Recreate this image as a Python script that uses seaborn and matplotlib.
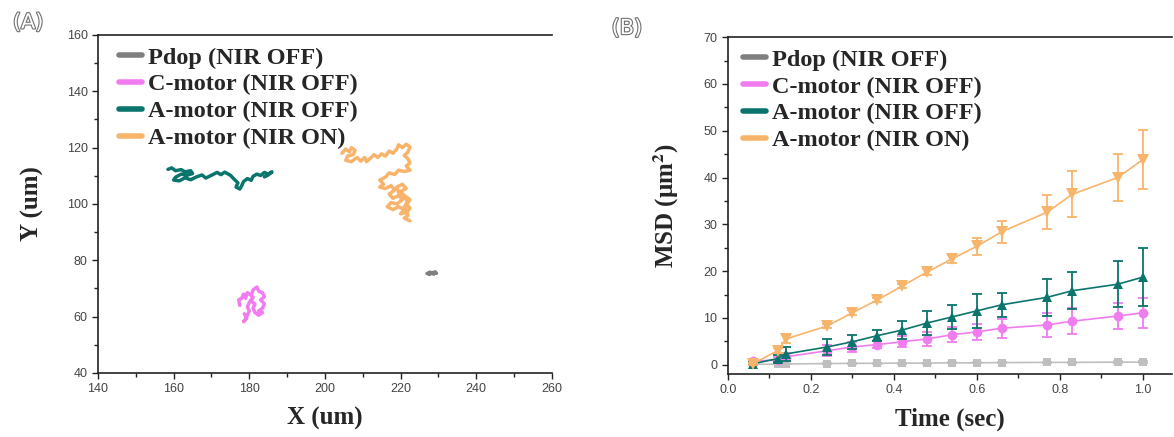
import numpy as np
import pandas as pd
import matplotlib
matplotlib.use("Agg")
import matplotlib.pyplot as plt
import matplotlib.patheffects as pe
from matplotlib.lines import Line2D
from matplotlib.ticker import MultipleLocator
import seaborn as sns

# ---------------- data ----------------
series = ["Pdop (NIR OFF)", "C-motor (NIR OFF)", "A-motor (NIR OFF)", "A-motor (NIR ON)"]
colors = ["#7f7f7f", "#f07cf0", "#0b756d", "#f9b46c"]
msd_colors = ["#bfbfbf", "#f07cf0", "#0b756d", "#f9b46c"]

# Panel A trajectories (X, Y in um)
pdop_x = [227.0, 227.8, 228.5, 229.2, 228.8, 228.0, 227.5, 228.6, 229.5, 228.3]
pdop_y = [75.3, 75.8, 75.4, 75.9, 75.1, 75.5, 75.0, 75.7, 75.4, 75.6]

cmot_x = [177.5, 177.2, 178.0, 178.5, 179.0, 179.5, 180.5, 181.0, 182.0, 182.5, 183.5, 184.0,
          183.0, 184.0, 183.5, 182.5, 183.5, 182.5, 181.5, 181.0, 181.5, 180.5, 181.0, 180.0,
          179.5, 180.0, 179.5, 179.0, 178.5, 179.3, 178.7]
cmot_y = [64.0, 66.0, 66.5, 68.0, 66.5, 68.5, 67.5, 69.5, 70.5, 69.0, 68.5, 67.0,
          66.0, 64.5, 63.0, 62.0, 61.5, 60.5, 61.5, 63.0, 64.5, 65.5, 67.0, 65.0,
          63.5, 62.0, 60.5, 59.0, 58.2, 59.5, 61.0]

amoff_x = [158.5, 159.5, 160.5, 162.0, 163.0, 164.5, 165.0, 163.5, 162.0, 160.5, 160.0, 161.5,
           163.0, 164.5, 166.0, 167.5, 168.5, 170.0, 171.5, 172.5, 173.5, 175.0, 176.0, 177.0,
           176.5, 177.5, 178.0, 178.5, 179.5, 180.5, 181.0, 182.0, 183.0, 184.0, 185.0, 186.0,
           185.0, 184.0]
amoff_y = [112.3, 112.8, 111.8, 112.2, 111.4, 111.8, 110.8, 110.2, 110.6, 109.5, 108.5, 108.2,
           109.3, 108.6, 109.6, 110.3, 109.2, 110.2, 111.2, 110.4, 111.3, 110.2, 108.8, 107.5,
           106.0, 105.3, 106.5, 108.0, 109.0, 108.4, 109.8, 110.6, 110.1, 111.2, 110.6, 111.4,
           110.3, 109.6]

amon_x = [204.5, 205.5, 206.5, 207.0, 208.0, 207.5, 206.0, 205.5, 207.0, 208.5, 209.5, 210.5,
          211.0, 212.0, 213.0, 214.0, 215.0, 216.0, 217.0, 218.0, 219.0, 219.5, 220.5, 221.5,
          222.5, 222.0, 221.0, 222.0, 222.5, 221.5, 222.5, 221.0, 219.5, 218.5, 217.0, 216.0,
          214.5, 215.5, 214.5, 216.0, 217.5, 218.5, 217.0, 218.0, 219.5, 220.5, 219.0, 217.5,
          216.5, 218.0, 219.5, 221.0, 220.0, 221.5, 222.5, 221.5, 222.5, 221.0, 220.0, 221.5,
          220.5, 219.0, 219.5, 221.0, 222.0, 221.0, 222.0, 221.0, 222.5]
amon_y = [118.0, 119.5, 118.5, 120.0, 119.0, 117.5, 117.0, 115.5, 115.0, 116.5, 115.2, 116.5,
          115.0, 116.2, 117.5, 116.5, 117.8, 117.0, 118.8, 118.0, 119.5, 121.0, 120.0, 121.2,
          120.3, 118.5, 117.2, 116.0, 114.5, 113.5, 112.0, 111.5, 112.0, 110.5, 111.0, 109.5,
          108.5, 107.0, 106.0, 105.5, 106.5, 105.0, 103.5, 102.0, 103.0, 101.5, 100.0, 100.5,
          99.0, 98.0, 99.0, 98.0, 96.5, 97.0, 98.5, 100.0, 101.5, 103.0, 104.5, 105.5,
          107.0, 106.0, 104.0, 102.5, 100.5, 99.0, 96.0, 95.0, 94.0]

# Panel B MSD
t = [0.06, 0.12, 0.14, 0.24, 0.30, 0.36, 0.42, 0.48, 0.54, 0.60, 0.66, 0.77, 0.83, 0.94, 1.00]
msd_pdop = [0.1, 0.1, 0.15, 0.25, 0.3, 0.3, 0.35, 0.35, 0.4, 0.4, 0.45, 0.5, 0.5, 0.55, 0.55]
err_pdop = [0.05, 0.05, 0.05, 0.1, 0.1, 0.1, 0.1, 0.1, 0.1, 0.1, 0.1, 0.15, 0.15, 0.15, 0.15]
msd_cmot = [0.8, 1.0, 1.7, 3.0, 3.8, 4.3, 4.9, 5.5, 6.4, 7.0, 7.8, 8.5, 9.3, 10.4, 11.1]
err_cmot = [0.3, 0.6, 0.8, 1.2, 1.0, 0.8, 1.2, 1.5, 1.6, 1.8, 2.0, 2.6, 2.8, 2.8, 3.2]
msd_aoff = [0.2, 1.3, 2.3, 3.8, 4.9, 6.2, 7.4, 8.9, 10.2, 11.5, 12.8, 14.4, 15.8, 17.2, 18.7]
err_aoff = [0.3, 0.8, 1.5, 1.7, 1.5, 1.2, 2.0, 2.6, 2.6, 3.6, 2.5, 4.0, 4.0, 4.9, 6.2]
msd_aon = [0.2, 3.0, 5.5, 8.3, 11.1, 13.8, 16.8, 19.8, 22.6, 25.3, 28.4, 32.6, 36.4, 40.0, 43.8]
err_aon = [0.2, 0.5, 0.8, 0.5, 0.5, 0.5, 0.5, 0.6, 0.8, 1.8, 2.3, 3.6, 4.9, 5.0, 6.3]

# ---------------- style ----------------
sns.set_theme(style="white")
plt.rcParams["font.family"] = ["Liberation Sans", "DejaVu Sans"]
plt.rcParams["mathtext.fontset"] = "stix"
serif_bold = dict(family="Liberation Serif", weight="bold")

fig = plt.figure(figsize=(11.74, 4.37), dpi=100)
axA = fig.add_axes([0.0835, 0.1465, 0.3865, 0.7735])
axB = fig.add_axes([0.620, 0.144, 0.378, 0.771])

# ---------------- panel A ----------------
traj = pd.concat([
    pd.DataFrame({"x": pdop_x, "y": pdop_y, "s": series[0]}),
    pd.DataFrame({"x": cmot_x, "y": cmot_y, "s": series[1]}),
    pd.DataFrame({"x": amoff_x, "y": amoff_y, "s": series[2]}),
    pd.DataFrame({"x": amon_x, "y": amon_y, "s": series[3]}),
], ignore_index=True)
sns.lineplot(data=traj, x="x", y="y", hue="s", hue_order=series, palette=colors,
             sort=False, estimator=None, legend=False, lw=2.5, ax=axA)
axA.set_xlim(140, 260)
axA.set_ylim(40, 160)
axA.xaxis.set_major_locator(MultipleLocator(20))
axA.xaxis.set_minor_locator(MultipleLocator(10))
axA.yaxis.set_major_locator(MultipleLocator(20))
axA.yaxis.set_minor_locator(MultipleLocator(10))
axA.set_xlabel("X (um)", fontsize=18, **serif_bold)
axA.set_ylabel("Y (um)", fontsize=18, **serif_bold)
axA.xaxis.set_label_coords(0.5, -0.1)
axA.yaxis.set_label_coords(-0.12, 0.5)

# ---------------- panel B ----------------
msd = [msd_pdop, msd_cmot, msd_aoff, msd_aon]
errs = [err_pdop, err_cmot, err_aoff, err_aon]
markers = ["s", "o", "^", "v"]
msizes = [6, 7, 7.5, 8.5]
for i, name in enumerate(series):
    d = pd.DataFrame({"t": t, "m": msd[i]})
    axB.errorbar(t, msd[i], yerr=errs[i], fmt="none", ecolor=msd_colors[i],
                 elinewidth=1.3, capsize=3.5, capthick=1.3, zorder=2 + i)
    sns.lineplot(data=d, x="t", y="m", color=msd_colors[i], marker=markers[i],
                 markersize=msizes[i], markeredgewidth=0, lw=1.2, ax=axB,
                 zorder=3 + i)
axB.set_xlim(0, 1.07)
axB.set_ylim(-2, 70)
axB.xaxis.set_major_locator(MultipleLocator(0.2))
axB.xaxis.set_minor_locator(MultipleLocator(0.1))
axB.yaxis.set_major_locator(MultipleLocator(10))
axB.yaxis.set_minor_locator(MultipleLocator(5))
axB.set_xlabel("Time (sec)", fontsize=18, **serif_bold)
axB.set_ylabel("MSD (\u03bcm$^{\\mathbf{2}}$)", fontsize=18, **serif_bold)
axB.xaxis.set_label_coords(0.5, -0.1)
axB.yaxis.set_label_coords(-0.105, 0.5)

for ax in (axA, axB):
    for sp in ["left", "bottom", "top"]:
        ax.spines[sp].set_visible(True)
        ax.spines[sp].set_color("#222222")
        ax.spines[sp].set_linewidth(1.2)
    ax.spines["right"].set_visible(False)
    ax.tick_params(which="both", direction="out", colors="#222222", labelcolor="#444444",
                   labelsize=9, left=True, bottom=True, top=False, right=False)
    ax.tick_params(which="major", length=4, width=1)
    ax.tick_params(which="minor", length=3, width=1)
    ax.grid(False)
    ax.set_facecolor("white")
    ax.set_xticklabels([f"{v:g}" if ax is axA else f"{v:.1f}" for v in ax.get_xticks()])
    handles = [Line2D([0], [0], color=c, lw=4) for c in colors]
    leg = ax.legend(handles, series, loc="upper left",
                    bbox_to_anchor=(0.035 if ax is axA else 0.022, 0.98),
                    frameon=False, handlelength=0.95, handletextpad=0.25,
                    labelspacing=0.2, borderaxespad=0, borderpad=0.2,
                    prop=dict(family="Liberation Serif", weight="bold", size=17.5))

# panel tags (hollow outline style)
for x, y, s in [(0.011, 0.935, "(A)"), (0.521, 0.922, "(B)")]:
    fig.text(x, y, s, fontsize=15, color="white", family="DejaVu Sans",
             path_effects=[pe.Stroke(linewidth=1.6, foreground="#707070"), pe.Normal()])

fig.savefig("out.png", dpi=100, facecolor="white")
